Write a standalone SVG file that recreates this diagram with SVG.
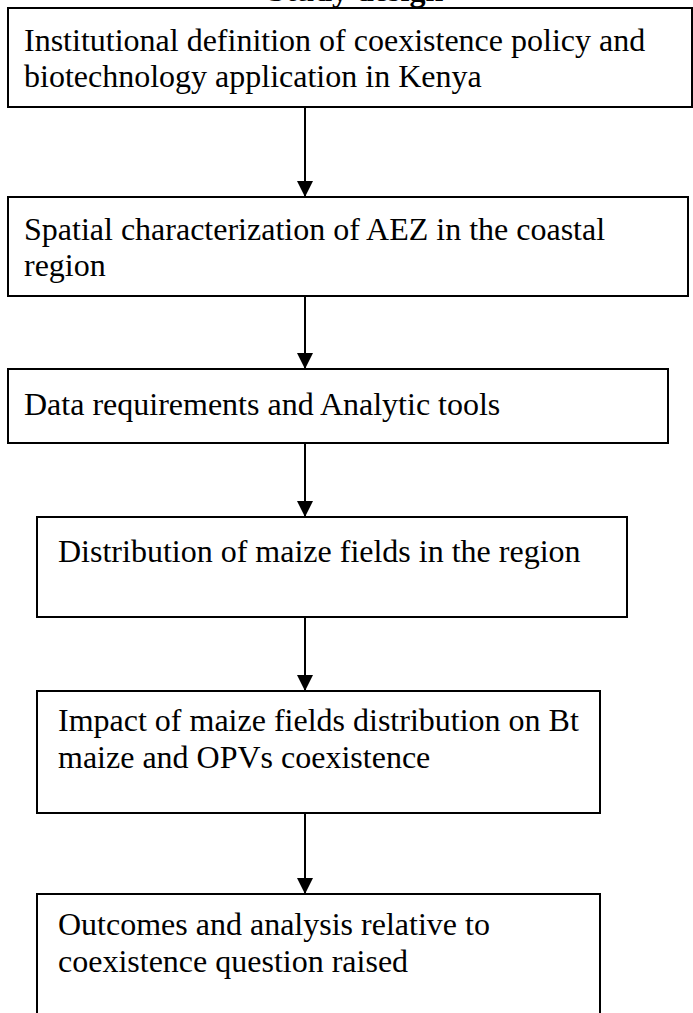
<svg xmlns="http://www.w3.org/2000/svg" width="693" height="1013" viewBox="0 0 693 1013">
  <defs>
    <style>
      .box { fill: #ffffff; stroke: #000000; stroke-width: 2; }
      .txt { font-family: "Liberation Serif", "Times New Roman", serif; font-size: 32px; fill: #000000; }
      .title { font-family: "Liberation Serif", "Times New Roman", serif; font-size: 32px; font-weight: bold; fill: #000000; }
      .conn { stroke: #000000; stroke-width: 2; fill: none; }
    </style>
    <marker id="arrow" markerUnits="userSpaceOnUse" markerWidth="16" markerHeight="16" refX="16" refY="8" orient="auto">
      <path d="M0,0 L16,8 L0,16 Z" fill="#000000"/>
    </marker>
  </defs>
  <rect x="0" y="0" width="693" height="1013" fill="#ffffff"/>
  <text class="title" x="268" y="1">Study design</text>

  <g id="node1">
    <rect class="box" x="8" y="8" width="684" height="99"/>
    <text class="txt" x="24" y="51">Institutional definition of coexistence policy and</text>
    <text class="txt" x="24" y="87">biotechnology application in Kenya</text>
  </g>
  <g id="node2">
    <rect class="box" x="8" y="197" width="680" height="99"/>
    <text class="txt" x="24" y="240">Spatial characterization of AEZ in the coastal</text>
    <text class="txt" x="24" y="276">region</text>
  </g>
  <g id="node3">
    <rect class="box" x="8" y="369" width="660" height="74"/>
    <text class="txt" x="24" y="415">Data requirements and Analytic tools</text>
  </g>
  <g id="node4">
    <rect class="box" x="37" y="517" width="590" height="100"/>
    <text class="txt" x="58" y="562">Distribution of maize fields in the region</text>
  </g>
  <g id="node5">
    <rect class="box" x="37" y="691" width="563" height="122"/>
    <text class="txt" x="58" y="731">Impact of maize fields distribution on Bt</text>
    <text class="txt" x="58" y="768">maize and OPVs coexistence</text>
  </g>
  <g id="node6">
    <rect class="box" x="37" y="894" width="563" height="140"/>
    <text class="txt" x="58" y="935">Outcomes and analysis relative to</text>
    <text class="txt" x="58" y="972">coexistence question raised</text>
  </g>

  <g id="connectors">
    <line class="conn" x1="305" y1="107" x2="305" y2="197" marker-end="url(#arrow)"/>
    <line class="conn" x1="305" y1="296" x2="305" y2="369" marker-end="url(#arrow)"/>
    <line class="conn" x1="305" y1="443" x2="305" y2="517" marker-end="url(#arrow)"/>
    <line class="conn" x1="305" y1="617" x2="305" y2="691" marker-end="url(#arrow)"/>
    <line class="conn" x1="305" y1="813" x2="305" y2="894" marker-end="url(#arrow)"/>
  </g>
</svg>
